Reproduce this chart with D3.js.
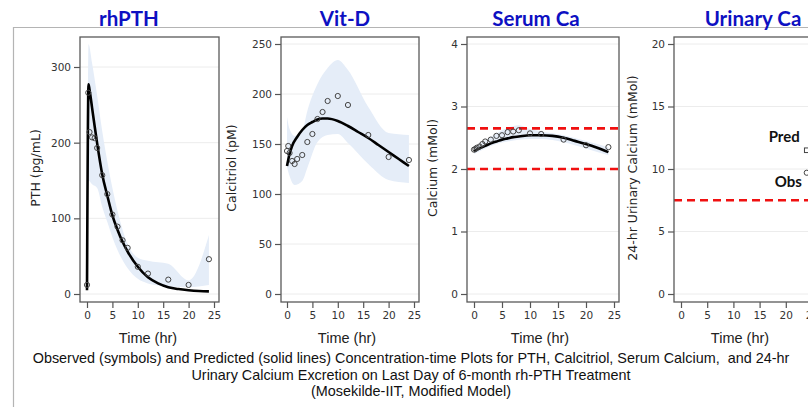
<!DOCTYPE html>
<html>
<head>
<meta charset="utf-8">
<script src="https://cdn.jsdelivr.net/npm/d3@7"></script>
<style>
    body { margin: 0; background: #fff; }
    svg { display: block; }
</style>
</head>
<body>
<svg id="chart" width="808" height="407"></svg>
<script>
// ---- data ----
let titles = ["rhPTH", "Vit-D", "Serum Ca", "Urinary Ca"];
let yLabels = ["PTH (pg/mL)", "Calcitriol (pM)", "Calcium (mMol)", "24-hr Urinary Calcium (mMol)"];
let xTicks = [0, 5, 10, 15, 20, 25];
let yTicks = [[0, 100, 200, 300], [0, 50, 100, 150, 200, 250], [0, 1, 2, 3, 4], [0, 5, 10, 15, 20]];

// observed (symbols)
let obsTime = [0, 0.25, 0.5, 1, 1.5, 2, 3, 4, 5, 6, 7, 8, 10, 12, 16, 20, 24];
let obsPTH = [12, 266, 214, 207, 206, 193, 157, 132, 105, 89, 71, 61, 36, 27, 19, 12, 46];
let obsVitD = [143, 148, 141, 133, 130, 135, 139, 152, 160, 175, 182, 193, 198, 189, 159, 137, 134];
let obsCa = [2.31, 2.32, 2.34, 2.36, 2.40, 2.44, 2.47, 2.53, 2.54, 2.59, 2.60, 2.62, 2.57, 2.56, 2.47, 2.38, 2.35];

// predicted (solid lines)
let predTimePTH = [0, 0.3, 0.5, 1, 1.5, 2, 3, 4, 5, 6, 7, 8, 10, 12, 14, 16, 18, 20, 22, 24];
let predPTH = [5, 277, 270, 246, 222, 199, 158, 130, 104, 85, 69, 56, 36, 22, 14, 9, 6.5, 5, 4, 3.5];
let predTime = [0, 0.5, 1, 2, 3, 4, 5, 6, 7, 8, 10, 12, 14, 16, 18, 20, 22, 24];
let predVitD = [128, 140, 148, 157, 164, 169, 172, 174.5, 175.5, 175.5, 173, 168, 162, 156, 149, 142, 135, 128];
let predCa = [2.28, 2.31, 2.33, 2.37, 2.41, 2.44, 2.47, 2.49, 2.51, 2.52, 2.54, 2.54, 2.53, 2.50, 2.45, 2.40, 2.34, 2.27];

// prediction interval bands
let bandTimePTH = [0, 0.3, 1, 2, 3, 4, 5, 6, 8, 10, 12, 16, 20, 24];
let bandLoPTH = [0, 150, 145, 140, 115, 95, 75, 58, 34, 20, 14, 10, 9, 12];
let bandHiPTH = [20, 330, 305, 262, 215, 175, 140, 110, 66, 48, 44, 40, 18, 78];
let bandTimeVitD = [0, 0.5, 1.5, 3, 4, 6, 8, 10, 12, 16, 20, 24];
let bandLoVitD = [127, 118, 109, 113, 126, 152, 159, 160, 151, 130, 114, 111];
let bandHiVitD = [177, 165, 158, 163, 183, 210, 226, 234, 224, 187, 161, 159];
let bandTimeCa = [0, 2, 4, 6, 8, 10, 12, 16, 20, 24];
let bandLoCa = [2.24, 2.33, 2.40, 2.44, 2.47, 2.48, 2.48, 2.43, 2.33, 2.22];
let bandHiCa = [2.35, 2.46, 2.57, 2.66, 2.70, 2.64, 2.60, 2.54, 2.45, 2.35];

// urinary calcium, single 24-hr value
let urineTime = [24];
let urineObs = [9.7];
let urinePred = [11.5];

// reference limits (red dashed)
let caLimits = [2.0, 2.65];
let urineLimits = [7.5];

// caption
let caption = [
    "Observed (symbols) and Predicted (solid lines) Concentration-time Plots for PTH, Calcitriol, Serum Calcium,\u00a0\u00a0and 24-hr",
    "Urinary Calcium Excretion on Last Day of 6-month rh-PTH Treatment",
    "(Mosekilde-IIT, Modified Model)"
];

// ---- layout ----
const svg = d3.select("#chart");
const frameTop = 37, frameBottom = 302;
const bandColor = "#e5edf8";
const tickFont = "DejaVu Sans";
const noteFont = "Liberation Sans";

const panels = [
    { left: 80, right: 219, x0: 87, x25: 214, yTop: 67, yMax: 300, titleX: 129, labelX: 35, timeX: 148 },
    { left: 281, right: 419, x0: 287, x25: 414, yTop: 44, yMax: 250, titleX: 345, labelX: 231, timeX: 347 },
    { left: 467, right: 619, x0: 474, x25: 614, yTop: 44, yMax: 4, titleX: 536, labelX: 432, timeX: 540 },
    { left: 674, right: 826, x0: 681, x25: 812, yTop: 44, yMax: 20, titleX: 753, labelX: 632, timeX: 740 }
];

// outer box (top + left edge)
svg.append("path")
    .attr("d", "M13.5,407 V27.5 H808")
    .attr("fill", "none")
    .attr("stroke", "#b4b4b4")
    .attr("stroke-width", 1.2);

function zip(t, v) {
    return t.map((d, i) => [d, v[i]]);
}

panels.forEach((p, k) => {
    p.x = d3.scaleLinear().domain([0, 25]).range([p.x0, p.x25]);
    p.y = d3.scaleLinear().domain([0, p.yMax]).range([294, p.yTop]);
    const g = svg.append("g");
    p.g = g;

    const clipId = "clip" + k;
    g.append("clipPath").attr("id", clipId)
        .append("rect")
        .attr("x", p.left).attr("y", frameTop)
        .attr("width", p.right - p.left).attr("height", frameBottom - frameTop);
    p.plot = g.append("g").attr("clip-path", `url(#${clipId})`);

    // grid
    p.plot.selectAll(".grid")
        .data(yTicks[k])
        .enter().append("line")
        .attr("x1", p.left).attr("x2", p.right)
        .attr("y1", d => p.y(d)).attr("y2", d => p.y(d))
        .attr("stroke", "#ececec")
        .attr("stroke-width", 1);

    // axes
    const yAxis = d3.axisLeft(p.y).tickValues(yTicks[k]).tickFormat(d3.format("d"))
        .tickSize(6).tickPadding(3);
    g.append("g")
        .attr("transform", `translate(${p.left},0)`)
        .call(yAxis)
        .call(a => a.select(".domain").remove());
    const xAxis = d3.axisBottom(p.x).tickValues(xTicks).tickSize(6).tickPadding(4);
    g.append("g")
        .attr("transform", `translate(0,${frameBottom})`)
        .call(xAxis)
        .call(a => a.select(".domain").remove());
    g.selectAll(".tick line").attr("stroke", "#555").attr("stroke-width", 1.2);
    g.selectAll(".tick text")
        .attr("fill", "#333")
        .style("font-family", tickFont)
        .style("font-size", "10.5px");

    // frame
    g.append("rect")
        .attr("x", p.left).attr("y", frameTop)
        .attr("width", p.right - p.left).attr("height", frameBottom - frameTop)
        .attr("fill", "none")
        .attr("stroke", "#595959")
        .attr("stroke-width", 1.3);

    // title
    svg.append("text")
        .attr("x", p.titleX).attr("y", 26)
        .attr("text-anchor", "middle")
        .text(titles[k])
        .style("font-family", "Lato")
        .style("font-weight", "bold")
        .style("font-size", "20.5px")
        .style("fill", "#0d10c2");

    // axis labels
    svg.append("text")
        .attr("transform", `translate(${p.labelX + 4.5},168) rotate(-90)`)
        .attr("text-anchor", "middle")
        .text(yLabels[k])
        .style("font-family", tickFont)
        .style("font-size", "12.5px")
        .style("fill", "#222");
    svg.append("text")
        .attr("x", p.timeX).attr("y", 343)
        .attr("text-anchor", "middle")
        .text("Time (hr)")
        .style("font-family", noteFont)
        .style("font-size", "14.5px")
        .style("fill", "#222");
});

function drawBand(p, t, lo, hi) {
    const area = d3.area()
        .x(d => p.x(d[0]))
        .y0(d => p.y(d[1]))
        .y1(d => p.y(d[2]))
        .curve(d3.curveMonotoneX);
    p.plot.append("path")
        .datum(t.map((d, i) => [d, lo[i], hi[i]]))
        .attr("d", area)
        .attr("fill", bandColor);
}

function drawPred(p, t, v) {
    const line = d3.line()
        .x(d => p.x(d[0]))
        .y(d => p.y(d[1]))
        .curve(d3.curveMonotoneX);
    p.plot.append("path")
        .datum(zip(t, v))
        .attr("d", line)
        .attr("fill", "none")
        .attr("stroke", "#000")
        .attr("stroke-width", 2.6);
}

function drawObs(p, t, v) {
    p.plot.selectAll(null)
        .data(zip(t, v))
        .enter().append("circle")
        .attr("cx", d => p.x(d[0]))
        .attr("cy", d => p.y(d[1]))
        .attr("r", 2.6)
        .attr("fill", "none")
        .attr("stroke", "#444")
        .attr("stroke-width", 1);
}

function drawLimits(p, values) {
    p.plot.selectAll(null)
        .data(values)
        .enter().append("line")
        .attr("x1", p.left).attr("x2", p.right)
        .attr("y1", d => p.y(d)).attr("y2", d => p.y(d))
        .attr("stroke", "#f01010")
        .attr("stroke-width", 2.6)
        .attr("stroke-dasharray", "8,5");
}

// rhPTH
drawBand(panels[0], bandTimePTH, bandLoPTH, bandHiPTH);
drawPred(panels[0], predTimePTH, predPTH);
drawObs(panels[0], obsTime, obsPTH);

// Vit-D
drawBand(panels[1], bandTimeVitD, bandLoVitD, bandHiVitD);
drawPred(panels[1], predTime, predVitD);
drawObs(panels[1], obsTime, obsVitD);

// Serum Ca
drawBand(panels[2], bandTimeCa, bandLoCa, bandHiCa);
drawLimits(panels[2], caLimits);
drawPred(panels[2], predTime, predCa);
drawObs(panels[2], obsTime, obsCa);

// Urinary Ca
let pu = panels[3];
drawLimits(pu, urineLimits);
drawObs(pu, urineTime, urineObs);
pu.plot.selectAll(null)
    .data(zip(urineTime, urinePred))
    .enter().append("rect")
    .attr("x", d => pu.x(d[0]) - 2.3)
    .attr("y", d => pu.y(d[1]) - 2.3)
    .attr("width", 4.6).attr("height", 4.6)
    .attr("fill", "none")
    .attr("stroke", "#444")
    .attr("stroke-width", 1);
pu.g.append("text")
    .attr("x", pu.x(urineTime[0]) - 7).attr("y", pu.y(urinePred[0]) - 8)
    .attr("text-anchor", "end")
    .text("Pred")
    .style("font-family", "Lato").style("font-weight", "bold")
    .style("font-size", "15px").style("fill", "#111");
pu.g.append("text")
    .attr("x", pu.x(urineTime[0]) - 5).attr("y", pu.y(urineObs[0]) + 14)
    .attr("text-anchor", "end")
    .text("Obs")
    .style("font-family", "Lato").style("font-weight", "bold")
    .style("font-size", "15px").style("fill", "#111");

// caption
svg.selectAll(".caption")
    .data(caption)
    .enter().append("text")
    .attr("class", "caption")
    .attr("x", 411)
    .attr("y", (d, i) => 363 + i * 16.5)
    .attr("text-anchor", "middle")
    .text(d => d)
    .style("font-family", noteFont)
    .style("font-size", "14.4px")
    .style("fill", "#111");
</script>
</body>
</html>
